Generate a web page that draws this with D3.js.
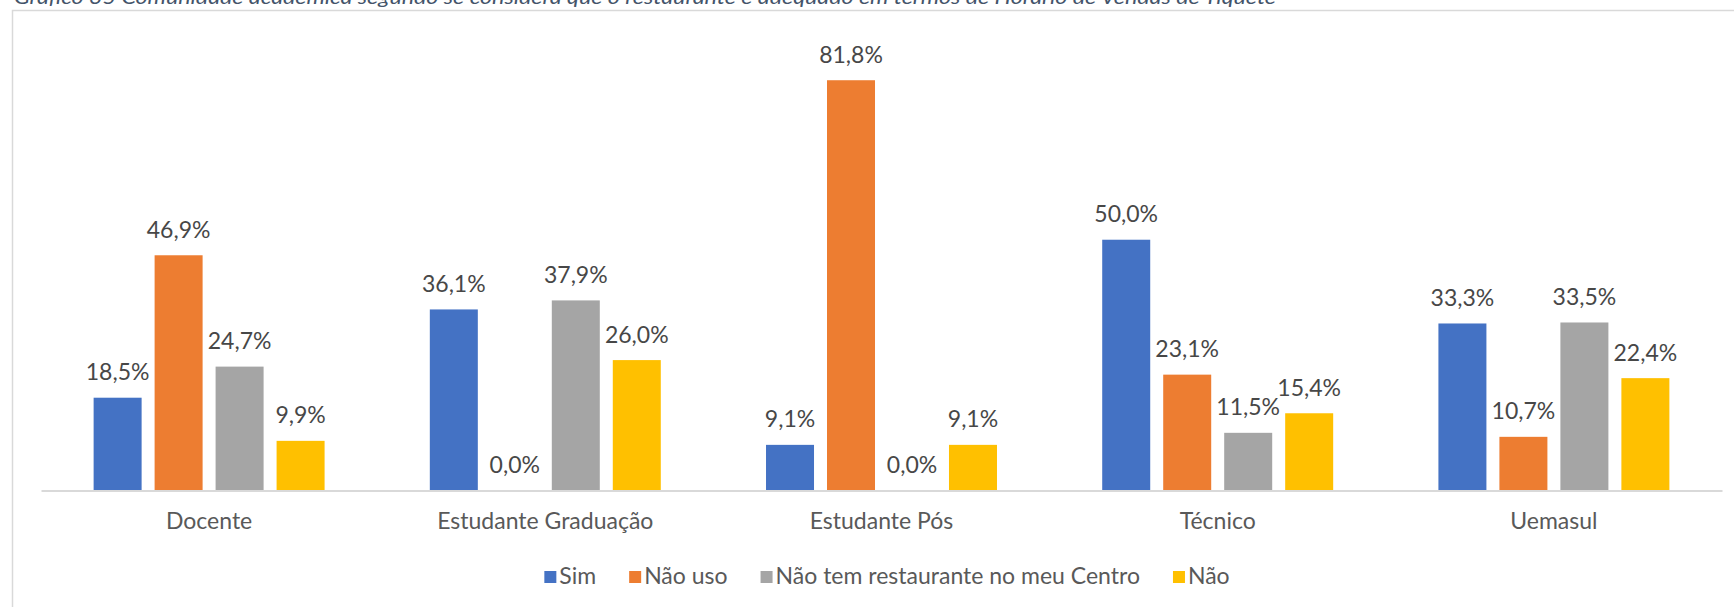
<!DOCTYPE html>
<html>
<head>
<meta charset="utf-8">
<script src="https://cdn.jsdelivr.net/npm/d3@7"></script>
<style>
  html, body { margin: 0; padding: 0; background: #fff; }
  svg { display: block; }
  text { font-family: Lato, "Open Sans", sans-serif; }
</style>
</head>
<body>
<svg id="chart" width="1734" height="607"></svg>
<script>
// Grupos da comunidade acadêmica
const categories = ["Docente", "Estudante Graduação", "Estudante Pós", "Técnico", "Uemasul"];
// Respostas (percentual por grupo)
const seriesNames = ["Sim", "Não uso", "Não tem restaurante no meu Centro", "Não"];
const sim        = [18.5, 36.1, 9.1, 50.0, 33.3];
const naoUso     = [46.9, 0.0, 81.8, 23.1, 10.7];
const naoTem     = [24.7, 37.9, 0.0, 11.5, 33.5];
const nao        = [9.9, 26.0, 9.1, 15.4, 22.4];
const seriesValues = [sim, naoUso, naoTem, nao];
const colors = ["#4472C4", "#ED7D31", "#A5A5A5", "#FFC000"];
const titleText = "Gráfico 35 Comunidade acadêmica segundo se considera que o restaurante é adequado em termos de Horário de Vendas de Tíquete";

const svg = d3.select("#chart");

// Título (parcialmente cortado no topo da página)
svg.append("text")
  .attr("x", 14).attr("y", 4)
  .attr("textLength", 1262).attr("lengthAdjust", "spacingAndGlyphs")
  .style("font-style", "italic").style("font-size", "20px")
  .attr("fill", "#44546A")
  .text(titleText);

// Moldura da área do gráfico
svg.append("rect")
  .attr("x", 12.5).attr("y", 10.5)
  .attr("width", 1760).attr("height", 640)
  .attr("fill", "#fff").attr("stroke", "#D9D9D9").attr("stroke-width", 1.5);

const plot = { left: 41, right: 1722, top: 39.1, bottom: 490.5 };

const x0 = d3.scaleBand().domain(categories).range([plot.left, plot.right]).padding(0);
const bw = x0.bandwidth();
const groupW = bw * 0.687;
const x1 = d3.scaleBand().domain(d3.range(seriesNames.length))
  .range([(bw - groupW) / 2, (bw + groupW) / 2])
  .paddingInner(0.213).paddingOuter(0);
const y = d3.scaleLinear().domain([0, 90]).range([plot.bottom, plot.top]);

const fmt = v => d3.format(".1f")(v).replace(".", ",") + "%";

const rows = categories.map((c, i) => ({
  cat: c,
  vals: seriesValues.map((s, k) => ({ k, v: s[i] }))
}));

const groups = svg.append("g").selectAll("g").data(rows).join("g")
  .attr("transform", d => `translate(${x0(d.cat)},0)`);

groups.selectAll("rect").data(d => d.vals).join("rect")
  .attr("x", d => x1(d.k))
  .attr("width", x1.bandwidth())
  .attr("y", d => y(d.v))
  .attr("height", d => y(0) - y(d.v))
  .attr("fill", d => colors[d.k]);

groups.selectAll("text").data(d => d.vals).join("text")
  .attr("x", d => x1(d.k) + x1.bandwidth() / 2)
  .attr("y", d => y(d.v) - 17.5)
  .attr("text-anchor", "middle")
  .style("font-size", "23px")
  .attr("fill", "#474747")
  .text(d => fmt(d.v));

// Eixo das categorias
const xAxis = svg.append("g")
  .attr("transform", `translate(0,${plot.bottom})`)
  .call(d3.axisBottom(x0).tickSize(0).tickPadding(0));
xAxis.select(".domain").attr("stroke", "#D9D9D9").attr("stroke-width", 2);
xAxis.selectAll(".tick text")
  .attr("dy", null).attr("y", 38.5)
  .style("font-size", "23px").style("font-family", "Lato, sans-serif")
  .attr("fill", "#595959");

// Legenda
const legend = svg.append("g");
const items = legend.selectAll("g").data(seriesNames).join("g");
items.append("rect")
  .attr("width", 12).attr("height", 12).attr("y", -13)
  .attr("fill", (d, i) => colors[i]);
items.append("text")
  .attr("x", 15).attr("y", 0)
  .style("font-size", "23px").attr("fill", "#595959")
  .text(d => d);
let cursor = 0;
items.each(function () {
  const g = d3.select(this);
  const w = 15 + g.select("text").node().getComputedTextLength();
  g.attr("transform", `translate(${cursor},0)`);
  cursor += w + 33;
});
const legendW = cursor - 33;
legend.attr("transform", `translate(${887 - legendW / 2},584)`);
</script>
</body>
</html>
